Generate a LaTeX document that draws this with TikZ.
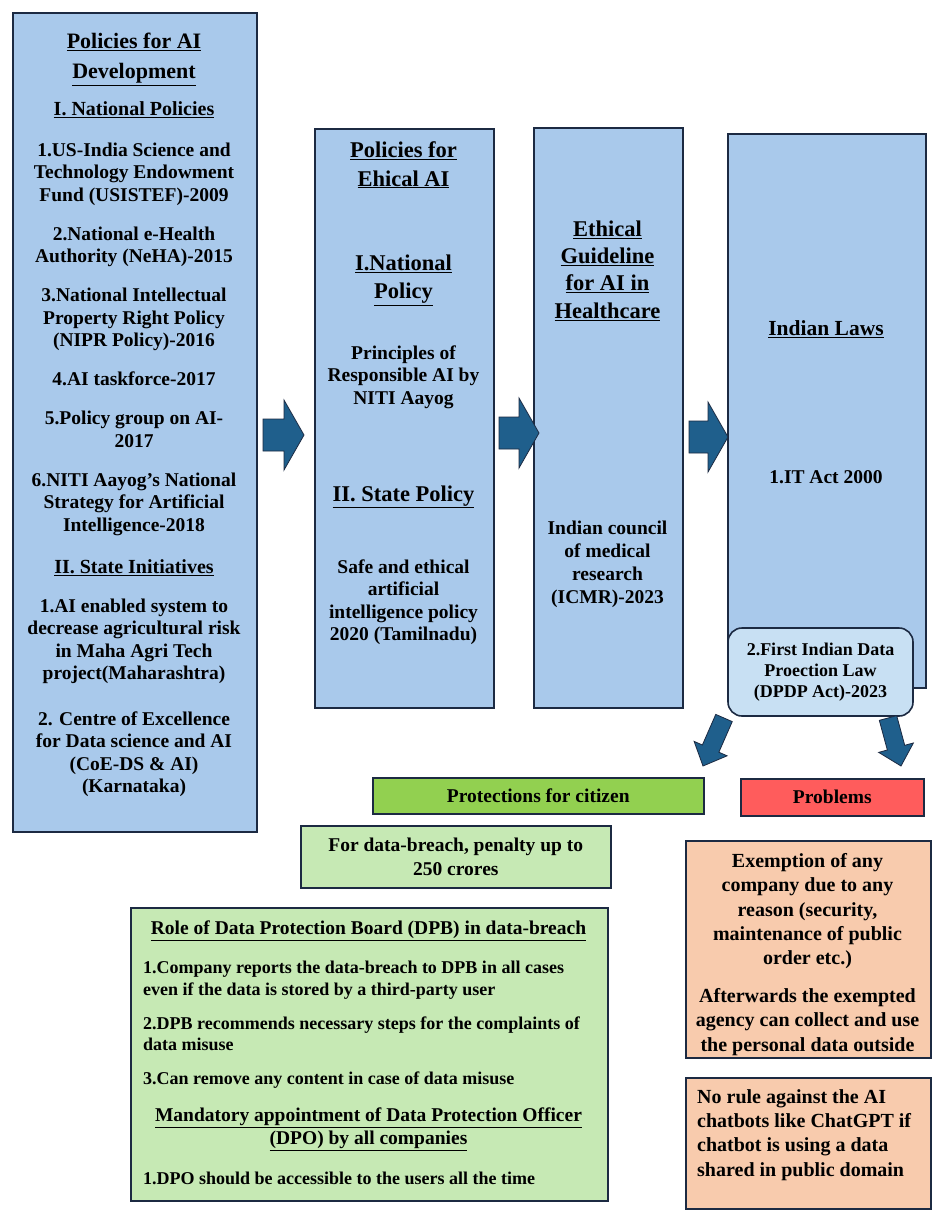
\documentclass[tikz,border=0pt]{standalone}
\usepackage{fontspec}
\setmainfont{Liberation Serif}
\usepackage{tikz}
\usetikzlibrary{calc}

\definecolor{boxblue}{RGB}{169,201,235}
\definecolor{lineblue}{RGB}{28,42,66}
\definecolor{arrowblue}{RGB}{31,95,140}
\definecolor{paleblue}{RGB}{200,224,243}
\definecolor{leafgreen}{RGB}{146,208,80}
\definecolor{palegreen}{RGB}{198,233,180}
\definecolor{alertred}{RGB}{255,92,92}
\definecolor{peach}{RGB}{248,203,173}

% block arrow: from, to, half shaft, half head, head length
\newcommand\blockarrow[5]{%
  \coordinate (hb) at ($(#2)!#5!(#1)$);
  \filldraw[fill=arrowblue, draw=lineblue, line width=0.8pt]
    ($(#1)!#3!90:(#2)$) -- ($(hb)!#3!90:(#2)$) -- ($(hb)!#4!90:(#2)$) -- (#2)
    -- ($(hb)!#4!-90:(#2)$) -- ($(hb)!#3!-90:(#2)$) -- ($(#1)!#3!-90:(#2)$) -- cycle;
}

\begin{document}
\begin{tikzpicture}[x=1pt,y=-1pt,
  box/.style={draw=lineblue, line width=1.6pt, inner sep=0pt, anchor=north west},
  head/.style={align=center, inner sep=0pt, anchor=north, font=\fontsize{22.5}{28.5}\selectfont\bfseries},
  subhead/.style={align=center, inner sep=0pt, anchor=north, font=\fontsize{20}{24}\selectfont\bfseries},
  body/.style={align=center, inner sep=0pt, anchor=north, font=\fontsize{19.5}{22.5}\selectfont\bfseries},
  peachtext/.style={inner sep=0pt, font=\fontsize{20}{24.2}\selectfont\bfseries},
  small/.style={align=left, inner sep=0pt, anchor=north west, font=\fontsize{18}{21.5}\selectfont\bfseries}]
\fill[white] (0,0) rectangle (935,1216);
\useasboundingbox (0,0) rectangle (935,1216);

% boxes
\node[box, fill=boxblue, minimum width=244pt, minimum height=819pt] (dev) at (12,12) {};
\node[box, fill=boxblue, minimum width=179pt, minimum height=579pt] (eth) at (314,128) {};
\node[box, fill=boxblue, minimum width=149pt, minimum height=580pt] (icmr) at (533,127) {};
\node[box, fill=boxblue, minimum width=198pt, minimum height=554pt] (laws) at (727,133) {};
\node[box, anchor=center, fill=paleblue, rounded corners=14pt, minimum width=185pt, minimum height=88pt,
  align=center, font=\fontsize{18}{21}\selectfont\bfseries] (dpdp) at (820.5,672)
  {2.First Indian Data\\Proection Law\\(DPDP Act)-2023};
\node[box, fill=leafgreen, minimum width=331pt, minimum height=36pt, font=\fontsize{19.5}{22}\selectfont\bfseries] (prot) at (372,777) {Protections for citizen};
\node[box, fill=alertred, minimum width=183pt, minimum height=37pt, font=\fontsize{19.5}{22}\selectfont\bfseries] (prob) at (740,778) {Problems};
\node[box, fill=palegreen, minimum width=310pt, minimum height=62pt, align=center, font=\fontsize{19.5}{24}\selectfont\bfseries] (fine) at (300,825)
  {For data-breach, penalty up to\\250 crores};
\node[box, fill=palegreen, minimum width=477pt, minimum height=293pt] (dpb) at (130,907) {};
\node[box, fill=peach, minimum width=245pt, minimum height=217pt] (exem) at (685,840) {};
\node[box, fill=peach, minimum width=245pt, minimum height=131pt] (norule) at (685,1077) {};

% policies for AI development
\node[head, font=\fontsize{22}{30}\selectfont\bfseries] (devh) at (134,33) {\underline{Policies for AI}\\\underline{Development}};
\node[subhead] (nath) at (134,101) {\underline{I. National Policies}};
\node[body] (natl) at (134,142.5) {1.US-India Science and\\Technology Endowment\\Fund (USISTEF)-2009\\[16.5pt]
  2.National e-Health\\Authority (NeHA)-2015\\[16.5pt]
  3.National Intellectual\\Property Right Policy\\(NIPR Policy)-2016\\[16.5pt]
  4.AI taskforce-2017\\[16.5pt]
  5.Policy group on AI-\\2017\\[16.5pt]
  6.NITI Aayog's National\\Strategy for Artificial\\Intelligence-2018};
\node[subhead] (stah) at (134,559) {\underline{II. State Initiatives}};
\node[body] (stal) at (134,598.5) {1.AI enabled system to\\decrease agricultural risk\\in Maha Agri Tech\\project(Maharashtra)\\[23pt]
  2. Centre of Excellence\\for Data science and AI\\(CoE-DS \& AI)\\(Karnataka)};

% policies for ethical AI
\node[head] (ethh) at (403.5,141.5) {\underline{Policies for}\\\underline{Ehical AI}};
\node[head] (ethn) at (403.5,254.5) {\underline{I.National}\\\underline{Policy}};
\node[body] (ethl) at (403.5,345.5) {Principles of\\Responsible AI by\\NITI Aayog};
\node[head] (eths) at (403.5,485.5) {\underline{II. State Policy}};
\node[body] (ethm) at (403.5,559.5) {Safe and ethical\\artificial\\intelligence policy\\2020 (Tamilnadu)};

% guideline
\node[head, font=\fontsize{22.5}{27.3}\selectfont\bfseries] (icmrh) at (607.5,220.5) {\underline{Ethical}\\\underline{Guideline}\\\underline{for AI in}\\\underline{Healthcare}};
\node[body, font=\fontsize{19.5}{23}\selectfont\bfseries] (icmrl) at (607.5,520.5) {Indian council\\of medical\\research\\(ICMR)-2023};

% laws
\node[head, font=\fontsize{21.5}{26}\selectfont\bfseries] (lawsh) at (826,320) {\underline{Indian Laws}};
\node[body] (itact) at (826,470.5) {1.IT Act 2000};

% data protection board
\node[body] (dpbh) at (368.5,920.5) {\underline{Role of Data Protection Board (DPB) in data-breach}};
\node[small] (dpbl) at (143,961) {1.Company reports the data-breach to DPB in all cases\\even if the data is stored by a third-party user\\[12.5pt]
  2.DPB recommends necessary steps for the complaints of\\data misuse\\[12.5pt]
  3.Can remove any content in case of data misuse};
\node[body, font=\fontsize{19.5}{23}\selectfont\bfseries] (dpoh) at (368.5,1107.5) {\underline{Mandatory appointment of Data Protection Officer}\\\underline{(DPO) by all companies}};
\node[small] (dpol) at (143,1172) {1.DPO should be accessible to the users all the time};

% problems
\node[peachtext, align=center, anchor=north] (exemt) at (807.5,853.5) {Exemption of any\\company due to any\\reason (security,\\maintenance of public\\order etc.)};
\node[peachtext, align=center, anchor=north] (aftert) at (807.5,988.5) {Afterwards the exempted\\agency can collect and use\\the personal data outside};
\node[peachtext, align=left, anchor=north west] (noruled) at (697,1089.5) {No rule against the AI\\chatbots like ChatGPT if\\chatbot is using a data\\shared in public domain};

% arrows
\coordinate (ar1a) at (263,435);
\coordinate (ar1b) at (304,435);
\coordinate (ar2a) at (499,433);
\coordinate (ar2b) at (539,433);
\coordinate (ar3a) at (689,437);
\coordinate (ar3b) at (728,437);
\coordinate (dl1) at (724,718);
\coordinate (dl2) at (703,766);
\coordinate (dr1) at (888,718);
\coordinate (dr2) at (901,766);
\blockarrow{ar1a}{ar1b}{16pt}{35pt}{20pt}
\blockarrow{ar2a}{ar2b}{16pt}{35pt}{20pt}
\blockarrow{ar3a}{ar3b}{16pt}{35pt}{20pt}
\blockarrow{dl1}{dl2}{9pt}{18pt}{19pt}
\blockarrow{dr1}{dr2}{9pt}{18pt}{19pt}
\end{tikzpicture}
\end{document}
